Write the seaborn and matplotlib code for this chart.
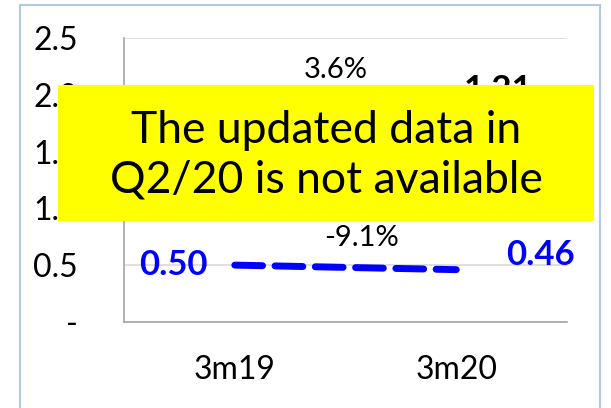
import matplotlib
matplotlib.use('Agg')
import matplotlib.pyplot as plt
import seaborn as sns
import pandas as pd
from matplotlib.patches import Rectangle

# Data
periods = ['3m19', '3m20']
blue_values = [0.50, 0.46]      # visible dashed series
black_values = [1.17, 1.21]     # series mostly hidden behind the note box
blue_change = '-9.1%'
black_change = '3.6%'
y_ticks = [0, 0.5, 1.0, 1.5, 2.0, 2.5]
y_tick_labels = ['-', '0.5', '1.0', '1.5', '2.0', '2.5']
note = 'The updated data in\nQ2/20 is not available'

df = pd.DataFrame({'period': periods, 'blue': blue_values, 'black': black_values})

sns.set_style('white')
plt.rcParams['font.family'] = ['Lato', 'DejaVu Sans']
plt.rcParams['text.color'] = 'black'
plt.rcParams['xtick.labelcolor'] = 'black'
plt.rcParams['ytick.labelcolor'] = 'black'

fig = plt.figure(figsize=(6.11, 4.08), dpi=100)
ax = fig.add_axes([0.203, 0.211, 0.725, 0.696])

# Series
sns.lineplot(data=df, x='period', y='black', color='black', linewidth=3, ax=ax, zorder=2)
sns.lineplot(data=df, x='period', y='blue', color='#0000FF', linewidth=5,
             linestyle=(0, (4, 1.8)), dash_capstyle='round', ax=ax, zorder=3)

# Axes setup
ax.set_xlim(-0.5, 1.5)
ax.set_ylim(0, 2.5)
ax.set_yticks(y_ticks)
ax.set_yticklabels(y_tick_labels, fontsize=23)
ax.set_xticks([-0.5, 0.5, 1.5])
ax.set_xticklabels([])
ax.set_xticks([0, 1], minor=True)
ax.set_xticklabels(periods, minor=True, fontsize=23)
ax.tick_params(axis='x', which='major', length=9, color='#A6A6A6', width=1.2, direction='out')
ax.tick_params(axis='x', which='minor', length=0, pad=24)
ax.tick_params(axis='y', length=9, color='#A6A6A6', width=1.2, direction='out', pad=24)
ax.grid(axis='y', color='#D9D9D9', linewidth=1.2)
ax.set_axisbelow(True)
for side in ['top', 'right']:
    ax.spines[side].set_visible(False)
for side in ['left', 'bottom']:
    ax.spines[side].set_color('#A6A6A6')
    ax.spines[side].set_linewidth(1.2)
ax.set_xlabel('')
ax.set_ylabel('')

# Data labels
ax.text(-0.275, blue_values[0], f'{blue_values[0]:.2f}', color='#0000FF', fontsize=25,
        fontweight='bold', ha='center', va='center')
ax.text(1.38, 0.59, f'{blue_values[1]:.2f}', color='#0000FF', fontsize=25,
        fontweight='bold', ha='center', va='center')
ax.text(0.57, 0.74, blue_change, fontsize=21, ha='center', va='center')
ax.text(0.456, 2.22, black_change, fontsize=21, ha='center', va='center')
ax.text(1.19, 2.04, f'{black_values[1]:.2f}', fontsize=25,
        fontweight='bold', ha='center', va='center')

# Yellow note box covering the hidden series
fig.patches.append(Rectangle((58 / 611, 1 - 221 / 408), (594 - 58) / 611, (221 - 85) / 408,
                             transform=fig.transFigure, facecolor='#FFFF00',
                             edgecolor='none', zorder=10))
fig.text((58 + 594) / 2 / 611, 1 - 155 / 408, note, fontsize=32, ha='center', va='center',
         linespacing=1.25, zorder=11)

# Light blue outer frame
fig.patches.append(Rectangle((20 / 611, -0.05), 580 / 611, 1 - 5 / 408 + 0.05,
                             transform=fig.transFigure, facecolor='none',
                             edgecolor='#B4C7E7', linewidth=1.5, zorder=0))

fig.savefig('out.png', dpi=100)
